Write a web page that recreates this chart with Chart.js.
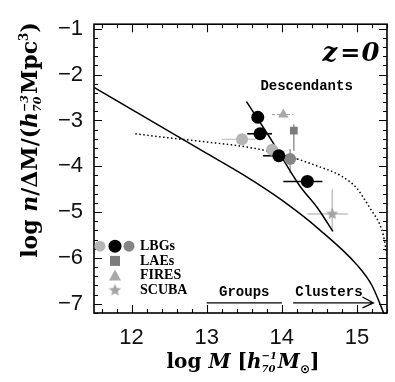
<!DOCTYPE html>
<html><head><meta charset="utf-8">
<script src="https://cdn.jsdelivr.net/npm/chart.js@4.4.1/dist/chart.umd.min.js"></script>
<style>html,body{margin:0;padding:0;background:#fff}</style>
</head><body>
<canvas id="c" width="395" height="382" style="width:395px;height:382px;display:block"></canvas>
<script>
// ---- axes ----
const xMin = 11.5, xMax = 15.4, yMin = -7.2, yMax = -0.9;
const xTickVals = [12, 13, 14, 15];
const yTickVals = [-1, -2, -3, -4, -5, -6, -7];

// ---- curves ----
const hmfX = [11.5, 12.0, 12.5, 13.0, 13.5, 14.0, 14.5, 15.0, 15.2, 15.38];
const hmfY = [-2.28, -2.76, -3.24, -3.72, -4.20, -4.74, -5.38, -6.15, -6.6, -7.3];
const dotX = [12.05, 12.5, 13.0, 13.5, 14.0, 14.5, 14.8, 15.0, 15.1, 15.2, 15.3, 15.35, 15.4];
const dotY = [-3.29, -3.38, -3.47, -3.57, -3.74, -4.01, -4.22, -4.48, -4.72, -4.98, -5.25, -5.5, -5.95];
const descX = [13.53, 13.87, 14.24, 14.48, 14.68];
const descY = [-2.59, -3.45, -4.43, -4.92, -5.42];

// ---- points ----
const lbgBlackX = [13.68, 13.71, 13.96, 14.34];
const lbgBlackY = [-2.93, -3.29, -3.77, -4.33];
const lbgBlackXLo = [null, 13.54, 13.75, 14.02];
const lbgBlackXHi = [null, 13.87, 14.15, 14.54];

const lbgLightX = [13.47, 13.87];
const lbgLightY = [-3.41, -3.64];
const lbgLightXLo = [13.20, null];
const lbgLightXHi = [13.65, null];

const lbgDarkX = [14.11];
const lbgDarkY = [-3.84];
const lbgDarkXLo = [14.0], lbgDarkXHi = [14.22];
const lbgDarkYLo = [-4.15], lbgDarkYHi = [-3.62];

const laeX = [14.16], laeY = [-3.22];
const laeYLo = [-3.66], laeYHi = [-3.08];

const firesX = [14.02], firesY = [-2.87];
const firesXLo = [13.87], firesXHi = [14.15];

const scubaX = [14.67], scubaY = [-5.04];
const scubaXLo = [14.34], scubaXHi = [14.88];
const scubaYLo = [-5.42], scubaYHi = [-4.50];

const legendLabels = ['LBGs', 'LAEs', 'FIRES', 'SCUBA'];

// ---- helpers ----
const pts = (xs, ys) => xs.map((x, i) => ({x: x, y: ys[i]}));
const C_LIGHT = '#b5b5b5', C_DARK = '#858585', C_SQ = '#7c7c7c', C_TRI = '#a8a8a8', C_STAR = '#a4a4a4';

function mkStar(r, color) {
  const c = document.createElement('canvas');
  const s = Math.ceil(r * 2 + 2);
  c.width = s; c.height = s;
  const g = c.getContext('2d');
  g.fillStyle = color; g.beginPath();
  for (let i = 0; i < 10; i++) {
    const a = -Math.PI / 2 + i * Math.PI / 5;
    const rr = i % 2 ? r * 0.45 : r;
    g.lineTo(s / 2 + rr * Math.cos(a), s / 2 + rr * Math.sin(a));
  }
  g.closePath(); g.fill();
  return c;
}
const starImg = mkStar(6.5, C_STAR);

function drawRich(ctx, segs, x, y, align) {
  let w = 0;
  const widths = segs.map(s => {
    ctx.font = s.f;
    let ww;
    if (s.stack) ww = Math.max(ctx.measureText(s.sup).width, ctx.measureText(s.sub).width) + 1;
    else ww = ctx.measureText(s.t).width;
    w += ww; return ww;
  });
  let cx = align === 'center' ? x - w / 2 : x;
  ctx.textBaseline = 'alphabetic'; ctx.textAlign = 'left';
  segs.forEach((s, i) => {
    ctx.font = s.f;
    if (s.stack) {
      ctx.fillText(s.sup, cx, y - 9);
      ctx.fillText(s.sub, cx, y + 4);
    } else {
      ctx.fillText(s.t, cx, y + (s.dy || 0));
    }
    cx += widths[i];
  });
}

const errSets = [
  {x: lbgBlackX, y: lbgBlackY, xlo: lbgBlackXLo, xhi: lbgBlackXHi, color: '#000', w: 1.6},
  {x: lbgLightX, y: lbgLightY, xlo: lbgLightXLo, xhi: lbgLightXHi, color: C_LIGHT, w: 1.2},
  {x: lbgDarkX, y: lbgDarkY, xlo: lbgDarkXLo, xhi: lbgDarkXHi, ylo: lbgDarkYLo, yhi: lbgDarkYHi, color: C_DARK, w: 1.2},
  {x: laeX, y: laeY, ylo: laeYLo, yhi: laeYHi, color: C_SQ, w: 1.2},
  {x: firesX, y: firesY, xlo: firesXLo, xhi: firesXHi, color: C_TRI, w: 1.2, dash: [3, 2]},
  {x: scubaX, y: scubaY, xlo: scubaXLo, xhi: scubaXHi, ylo: scubaYLo, yhi: scubaYHi, color: C_STAR, w: 1.0}
];

const framePlugin = {
  id: 'frame',
  beforeDatasetsDraw(chart) {
    const ctx = chart.ctx, xs = chart.scales.x, ys = chart.scales.y;
    ctx.save();
    errSets.forEach(e => {
      ctx.strokeStyle = e.color; ctx.lineWidth = e.w; ctx.setLineDash(e.dash || []);
      e.x.forEach((xv, i) => {
        const px = xs.getPixelForValue(xv), py = ys.getPixelForValue(e.y[i]);
        if (e.xlo && e.xlo[i] != null) {
          ctx.beginPath(); ctx.moveTo(xs.getPixelForValue(e.xlo[i]), py); ctx.lineTo(xs.getPixelForValue(e.xhi[i]), py); ctx.stroke();
        }
        if (e.ylo && e.ylo[i] != null) {
          ctx.beginPath(); ctx.moveTo(px, ys.getPixelForValue(e.ylo[i])); ctx.lineTo(px, ys.getPixelForValue(e.yhi[i])); ctx.stroke();
        }
      });
    });
    ctx.restore();
  },
  afterDraw(chart) {
    const ctx = chart.ctx, a = chart.chartArea, xs = chart.scales.x, ys = chart.scales.y;
    ctx.save();
    ctx.strokeStyle = '#000'; ctx.setLineDash([]);
    ctx.lineWidth = 1.6;
    ctx.strokeRect(a.left, a.top, a.right - a.left, a.bottom - a.top);
    ctx.lineWidth = 1.1;
    ctx.beginPath();
    for (let v = 11.6; v < xMax; v += 0.2) {
      const r = Math.round(v * 10) / 10;
      const L = Math.abs(r - Math.round(r)) < 1e-6 ? 8 : 4;
      const px = Math.round(xs.getPixelForValue(r)) + 0.5;
      ctx.moveTo(px, a.bottom); ctx.lineTo(px, a.bottom - L);
      ctx.moveTo(px, a.top); ctx.lineTo(px, a.top + L);
    }
    for (let v = -7.2; v <= -0.9; v += 0.2) {
      const r = Math.round(v * 10) / 10;
      const L = Math.abs(r - Math.round(r)) < 1e-6 ? 8 : 4;
      const py = Math.round(ys.getPixelForValue(r)) + 0.5;
      ctx.moveTo(a.left, py); ctx.lineTo(a.left + L, py);
      ctx.moveTo(a.right, py); ctx.lineTo(a.right - L, py);
    }
    ctx.stroke();

    ctx.fillStyle = '#000';
    // z=0
    ctx.font = 'italic bold 26px "DejaVu Serif"';
    ctx.textAlign = 'center'; ctx.textBaseline = 'alphabetic';
    ctx.fillText('z', xs.getPixelForValue(14.64), ys.getPixelForValue(-1.71));
    ctx.fillText('0', xs.getPixelForValue(15.18), ys.getPixelForValue(-1.71));
    ctx.font = 'bold 24px "DejaVu Serif"';
    ctx.fillText('=', xs.getPixelForValue(14.91), ys.getPixelForValue(-1.71));

    // Descendants
    ctx.font = 'bold 14px "Liberation Mono"';
    ctx.fillText('Descendants', xs.getPixelForValue(14.33), ys.getPixelForValue(-2.33));

    // Groups / Clusters
    const gy = ys.getPixelForValue(-6.98);
    ctx.fillText('Groups', xs.getPixelForValue(13.5), ys.getPixelForValue(-6.84));
    ctx.textAlign = 'left';
    ctx.fillText('Clusters', xs.getPixelForValue(14.18), ys.getPixelForValue(-6.84));
    ctx.lineWidth = 1.2;
    ctx.beginPath();
    ctx.moveTo(xs.getPixelForValue(13.0), gy); ctx.lineTo(xs.getPixelForValue(14.0), gy);
    const ax0 = xs.getPixelForValue(14.15), ax1 = xs.getPixelForValue(15.22);
    ctx.moveTo(ax0, gy); ctx.lineTo(ax1, gy);
    ctx.moveTo(ax1 - 11, gy - 6); ctx.lineTo(ax1, gy); ctx.lineTo(ax1 - 11, gy + 5);
    ctx.stroke();

    // legend
    const lx = a.left + 21, ly0 = a.top + 222, dly = 14.7;
    ctx.font = 'bold 14px "Liberation Serif"';
    ctx.textBaseline = 'middle'; ctx.textAlign = 'left';
    legendLabels.forEach((t, i) => ctx.fillText(t, lx + 25, ly0 + i * dly));
    const circ = (x, y, r, c) => { ctx.fillStyle = c; ctx.beginPath(); ctx.arc(x, y, r, 0, Math.PI * 2); ctx.fill(); };
    circ(lx - 15, ly0, 5.5, C_LIGHT);
    circ(lx, ly0, 6.5, '#000');
    circ(lx + 14, ly0, 5.5, C_DARK);
    ctx.fillStyle = C_SQ; ctx.fillRect(lx - 5, ly0 + dly - 5, 10, 10);
    ctx.fillStyle = C_TRI; ctx.beginPath();
    ctx.moveTo(lx, ly0 + 2 * dly - 6); ctx.lineTo(lx + 6, ly0 + 2 * dly + 5); ctx.lineTo(lx - 6, ly0 + 2 * dly + 5); ctx.closePath(); ctx.fill();
    ctx.drawImage(starImg, lx - starImg.width / 2, ly0 + 3 * dly - starImg.height / 2);

    // axis titles
    ctx.fillStyle = '#000';
    const F = 'bold 22px "DejaVu Serif"', FI = 'italic bold 22px "DejaVu Serif"', FS = 'italic bold 11px "DejaVu Serif"', FSR = 'bold 12px "DejaVu Serif"';
    const F2 = 'bold 20px "DejaVu Serif"', FI2 = 'italic bold 20px "DejaVu Serif"', FS2 = 'italic bold 10px "DejaVu Serif"';
    drawRich(ctx, [
      {t: 'log ', f: F2}, {t: 'M', f: FI2}, {t: ' [', f: F2}, {t: 'h', f: FI2},
      {stack: true, sup: '−1', sub: '70', f: FS2}, {t: 'M', f: FI2}, {t: '⊙', f: 'bold 12px "DejaVu Sans"', dy: 5}, {t: ']', f: F2}
    ], 243, 368, 'center');
    ctx.save();
    ctx.translate(37, 140); ctx.rotate(-Math.PI / 2);
    drawRich(ctx, [
      {t: 'log ', f: F}, {t: 'n', f: FI}, {t: '/ΔM/(', f: F}, {t: 'h', f: FI},
      {stack: true, sup: '−3', sub: '70', f: FS}, {t: 'Mpc', f: F}, {t: '3', f: FSR, dy: -9}, {t: ')', f: F}
    ], 0, 0, 'center');
    ctx.restore();
    ctx.restore();
  }
};

new Chart(document.getElementById('c'), {
  type: 'scatter',
  data: {
    datasets: [
      {data: pts(hmfX, hmfY), showLine: true, borderColor: '#000', borderWidth: 1.5, pointRadius: 0, tension: 0.4, cubicInterpolationMode: 'monotone', order: 10},
      {data: pts(dotX, dotY), showLine: true, borderColor: '#000', borderWidth: 1.5, borderDash: [1.5, 2.5], pointRadius: 0, tension: 0.4, cubicInterpolationMode: 'monotone', order: 10},
      {data: pts(descX, descY), showLine: true, borderColor: '#000', borderWidth: 1.5, pointRadius: 0, tension: 0.4, cubicInterpolationMode: 'monotone', order: 10},
      {data: pts(lbgLightX, lbgLightY), pointStyle: 'circle', pointRadius: 6, backgroundColor: C_LIGHT, borderWidth: 0, order: 2},
      {data: pts(lbgDarkX, lbgDarkY), pointStyle: 'circle', pointRadius: 6, backgroundColor: C_DARK, borderWidth: 0, order: 2},
      {data: pts(laeX, laeY), pointStyle: 'rect', pointRadius: 5.5, backgroundColor: C_SQ, borderWidth: 0, order: 2},
      {data: pts(firesX, firesY), pointStyle: 'triangle', pointRadius: 6, backgroundColor: C_TRI, borderWidth: 0, order: 2},
      {data: pts(scubaX, scubaY), pointStyle: starImg, order: 2},
      {data: pts(lbgBlackX, lbgBlackY), pointStyle: 'circle', pointRadius: 6.5, backgroundColor: '#000', borderWidth: 0, order: 1}
    ]
  },
  options: {
    responsive: false, animation: false, devicePixelRatio: 1,
    layout: {padding: {left: 0, right: 8, top: 11, bottom: 0}},
    plugins: {legend: {display: false}, tooltip: {enabled: false}},
    scales: {
      x: {
        type: 'linear', min: xMin, max: xMax,
        grid: {display: false, drawTicks: false}, border: {display: false},
        afterBuildTicks: s => { s.ticks = xTickVals.map(v => ({value: v})); },
        afterFit: s => { s.height = 69; },
        ticks: {color: '#111', font: {family: 'Liberation Sans', size: 22}, padding: 12, maxRotation: 0, callback: v => String(v)}
      },
      y: {
        type: 'linear', min: yMin, max: yMax,
        grid: {display: false, drawTicks: false}, border: {display: false},
        afterBuildTicks: s => { s.ticks = yTickVals.map(v => ({value: v})); },
        afterFit: s => { s.width = 94; },
        ticks: {color: '#111', font: {family: 'Liberation Sans', size: 22}, padding: 11, callback: v => (v < 0 ? '−' : '') + Math.abs(v)}
      }
    }
  },
  plugins: [framePlugin]
});
</script>
</body></html>
